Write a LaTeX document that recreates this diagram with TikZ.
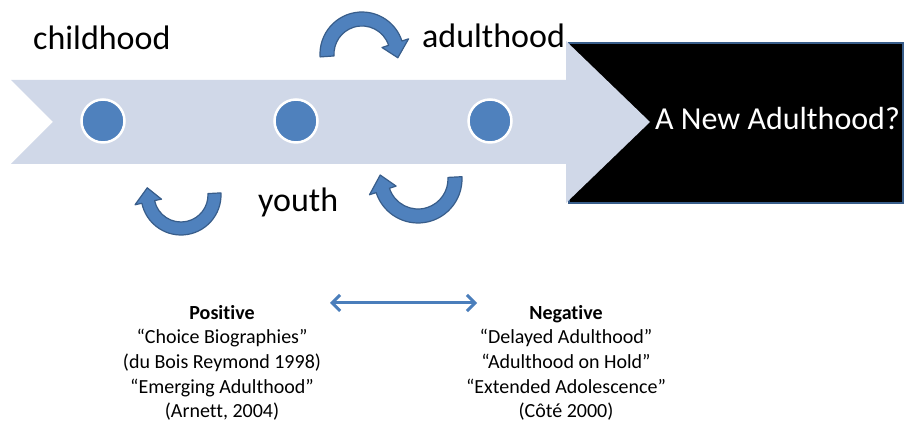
\documentclass[tikz,border=0pt]{standalone}
\usepackage{fontspec}
\setmainfont{Carlito}[Ligatures=NoCommon]
\usetikzlibrary{arrows.meta}

\begin{document}
\begin{tikzpicture}[x=1pt, y=1pt,
  bigword/.style={anchor=base west, inner sep=0pt, font=\fontsize{34}{40}\selectfont},
  stage/.style={circle, minimum size=43pt, inner sep=0pt, fill=stageblue, draw=white, line width=2.5pt},
  curl/.style={fill=stageblue, draw=curledge, line width=1.2pt, line join=round},
  column/.style={anchor=north, align=center, inner sep=0pt, font=\fontsize{20}{24.6}\selectfont}]

\definecolor{ribbon}{RGB}{208, 216, 232}
\definecolor{stageblue}{RGB}{79, 129, 189}
\definecolor{curledge}{RGB}{56, 93, 138}
\definecolor{linkblue}{RGB}{74, 126, 187}

% Fill background
\fill[white] (0,0) rectangle (905,441);
\useasboundingbox (0,0) rectangle (905,441);

% The black box
\draw[fill=black, draw=curledge, line width=1.5pt] (569,238) rectangle (903,398);

% The ribbon arrow
\fill[ribbon] (11,361) -- (566,361) -- (566,400) -- (650,319) -- (566,238)
  -- (566,277) -- (11,277) -- (53,319) -- cycle;

% Stages on the ribbon
\foreach \x [count=\i] in {103, 296, 490}
  \node[stage] (stage\i) at (\x,320) {};

% Stage names
\node[bigword] (child) at (33,391) {childhood};
\node[bigword] (adult) at (422,393) {adulthood};
\node[bigword] (youth) at (258,229) {youth};
\node[bigword, text=white, font=\fontsize{32}{38}\selectfont] (newadult) at (655,311) {A New Adulthood?};

% Curved arrows
\foreach \cx/\cy/\sa/\ea/\rout/\rin in {362/387/184/18/42/28, 181/246/3/-168/40/27, 418/262/3/-162/44/30}{
  \begin{scope}[shift={(\cx,\cy)}]
    \filldraw[curl] (\sa:\rout) arc[start angle=\sa, end angle=\ea, radius=\rout pt]
      -- ({\ea}:{\rout+7}) -- ({\ea-24}:{(\rout+\rin)/2+1}) -- ({\ea}:{\rin-7})
      -- (\ea:\rin) arc[start angle=\ea, end angle=\sa, radius=\rin pt] -- cycle;
  \end{scope}
}

% Positive and negative views
\node[column] (positive) at (222,136) {\textbf{Positive}\\“Choice Biographies”\\(du Bois Reymond 1998)\\“Emerging Adulthood”\\(Arnett, 2004)};
\node[column] (negative) at (566,136) {\textbf{Negative}\\“Delayed Adulthood”\\“Adulthood on Hold”\\“Extended Adolescence”\\(Côté 2000)};

% Double arrow between the views
\coordinate (left end) at (330,138);
\coordinate (right end) at (477,138);
\draw[linkblue, line width=3pt, {Straight Barb[length=8pt,width=16pt]}-{Straight Barb[length=8pt,width=16pt]}] (left end) -- (right end);

\end{tikzpicture}
\end{document}
